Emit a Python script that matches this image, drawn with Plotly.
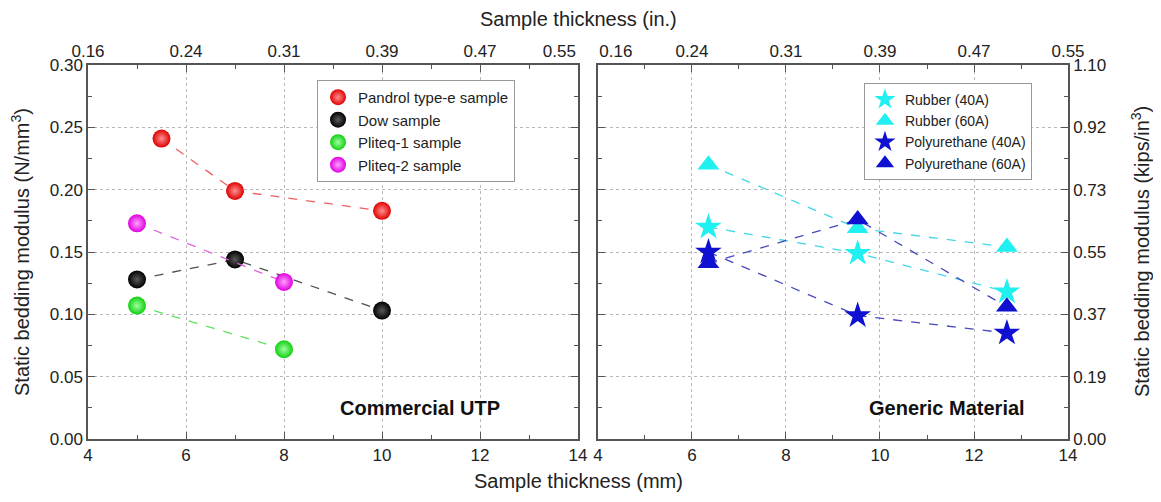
import plotly.graph_objects as go

# ---- data ----
mm_ticks = [4, 6, 8, 10, 12, 14]
in_tick_pos_left = [4, 6, 8, 10, 12, 13.62]
in_tick_pos_right = [4.38, 6, 8, 10, 12, 14]
in_tick_labels = ["0.16", "0.24", "0.31", "0.39", "0.47", "0.55"]
left_y_ticks = [0.00, 0.05, 0.10, 0.15, 0.20, 0.25, 0.30]
left_y_labels = ["0.00", "0.05", "0.10", "0.15", "0.20", "0.25", "0.30"]
right_y_labels = ["0.00", "0.19", "0.37", "0.55", "0.73", "0.92", "1.10"]

pandrol_x = [5.5, 7, 10]
pandrol_y = [0.241, 0.199, 0.183]
dow_x = [5, 7, 10]
dow_y = [0.128, 0.144, 0.103]
pliteq1_x = [5, 8]
pliteq1_y = [0.107, 0.072]
pliteq2_x = [5, 8]
pliteq2_y = [0.173, 0.126]

generic_x = [6.35, 9.525, 12.7]
rubber40_y = [0.170, 0.149, 0.118]
rubber60_y = [0.220, 0.169, 0.154]
pu40_y = [0.150, 0.099, 0.085]
pu60_y = [0.141, 0.176, 0.106]

FONT = "Liberation Sans, Arial, sans-serif"
TICKFONT = dict(family=FONT, size=17, color="#222222")
fig = go.Figure()


def add_series(x, y, name, color, linecolor, symbol, size, xa, ya, legend, gradient=None):
    fig.add_trace(go.Scatter(x=x, y=y, mode="lines", xaxis=xa, yaxis=ya,
                             line=dict(color=linecolor, width=1.3, dash="dash"),
                             showlegend=False, hoverinfo="skip"))
    marker = dict(color=color, symbol=symbol, size=size, line=dict(width=0))
    if gradient:
        marker["gradient"] = dict(type="radial", color=gradient)
    fig.add_trace(go.Scatter(x=x, y=y, mode="markers", name=name, xaxis=xa, yaxis=ya,
                             marker=marker, legend=legend))


add_series(pandrol_x, pandrol_y, "Pandrol type-e sample", "#e00000", "#f06060", "circle", 18, "x", "y", "legend", "#ff9090")
add_series(dow_x, dow_y, "Dow sample", "#000000", "#505050", "circle", 18, "x", "y", "legend", "#5a5a5a")
add_series(pliteq1_x, pliteq1_y, "Pliteq-1 sample", "#10d010", "#60e060", "circle", 18, "x", "y", "legend", "#a0ffa0")
add_series(pliteq2_x, pliteq2_y, "Pliteq-2 sample", "#e000e0", "#e060e0", "circle", 18, "x", "y", "legend", "#ffa0ff")

add_series(generic_x, rubber40_y, "Rubber (40A)", "#20f0f0", "#40d8e8", "star", 20, "x2", "y2", "legend2")
add_series(generic_x, rubber60_y, "Rubber (60A)", "#20f0f0", "#40d8e8", "triangle-up", 19, "x2", "y2", "legend2")
add_series(generic_x, pu40_y, "Polyurethane (40A)", "#1010d0", "#4848c0", "star", 20, "x2", "y2", "legend2")
add_series(generic_x, pu60_y, "Polyurethane (60A)", "#1010d0", "#4848c0", "triangle-up", 19, "x2", "y2", "legend2")

# invisible helpers so the top (inch) label axes are drawn
for xa, ya in (("x3", "y"), ("x4", "y2")):
    fig.add_trace(go.Scatter(x=[mm_ticks[0]], y=[0], mode="markers", xaxis=xa, yaxis=ya,
                             marker=dict(opacity=0, size=1), showlegend=False, hoverinfo="skip"))

axis_common = dict(showline=True, linecolor="#555555", linewidth=1.5,
                   ticks="inside", ticklen=7, tickcolor="#555555", tickwidth=1.2,
                   tickfont=TICKFONT,
                   showgrid=True, gridcolor="#b8b8b8", griddash="dot", gridwidth=1,
                   zeroline=False, mirror="ticks")

x_common = dict(axis_common, range=[4, 14], tickvals=mm_ticks,
                minor=dict(ticks="inside", ticklen=4, tickcolor="#555555", dtick=1, showgrid=False))
y_common = dict(axis_common, range=[0, 0.30], tickvals=left_y_ticks,
                minor=dict(ticks="inside", ticklen=4, tickcolor="#555555", dtick=0.025, showgrid=False))

top_common = dict(range=[4, 14], ticktext=in_tick_labels, side="top", ticks="",
                  showgrid=False, showline=False, zeroline=False, tickfont=TICKFONT,
                  ticklabelstandoff=4)

d1 = [0, 0.5]
d2 = [0.5204, 1]
fig.update_layout(
    width=1145, height=486,
    margin=dict(l=80, r=85, t=57, b=55),
    paper_bgcolor="white", plot_bgcolor="white",
    font=dict(family=FONT, color="#222222"),
    xaxis=dict(x_common, domain=d1, anchor="y"),
    xaxis2=dict(x_common, domain=d2, anchor="y2"),
    xaxis3=dict(top_common, overlaying="x", anchor="y", tickvals=in_tick_pos_left),
    xaxis4=dict(top_common, overlaying="x2", anchor="y2", tickvals=in_tick_pos_right),
    yaxis=dict(y_common, domain=[0, 1], anchor="x", ticktext=left_y_labels),
    yaxis2=dict(y_common, domain=[0, 1], anchor="x2", side="right", ticktext=right_y_labels),
    legend=dict(x=0.2337, y=0.960, xanchor="left", yanchor="top",
                bordercolor="#999999", borderwidth=1, bgcolor="white",
                font=dict(family=FONT, size=15, color="#222222"),
                itemsizing="trace", itemwidth=30, tracegroupgap=0, traceorder="normal"),
    legend2=dict(x=0.7918, y=0.952, xanchor="left", yanchor="top",
                 bordercolor="#999999", borderwidth=1, bgcolor="white",
                 font=dict(family=FONT, size=14, color="#222222"),
                 itemsizing="trace", itemwidth=30, tracegroupgap=0, traceorder="normal"),
    annotations=[
        dict(text="<b>Commercial UTP</b>", x=10.77, y=0.025, xref="x", yref="y",
             showarrow=False, font=dict(family=FONT, size=20, color="#111111")),
        dict(text="<b>Generic Material</b>", x=11.43, y=0.025, xref="x2", yref="y2",
             showarrow=False, font=dict(family=FONT, size=20, color="#111111")),
        dict(text="Sample thickness (mm)", x=0.501, y=-0.112, xref="paper", yref="paper",
             xanchor="center", yanchor="middle", showarrow=False,
             font=dict(family=FONT, size=20, color="#222222")),
        dict(text="Sample thickness (in.)", x=0.501, y=1.122, xref="paper", yref="paper",
             xanchor="center", yanchor="middle", showarrow=False,
             font=dict(family=FONT, size=20, color="#222222")),
        dict(text="Static bedding modulus (N/mm<sup>3</sup>)", x=-0.0694, y=0.5,
             xref="paper", yref="paper", textangle=-90, xanchor="center", yanchor="middle",
             showarrow=False, font=dict(family=FONT, size=20, color="#222222")),
        dict(text="Static bedding modulus (kips/in<sup>3</sup>)", x=1.0735, y=0.5,
             xref="paper", yref="paper", textangle=-90, xanchor="center", yanchor="middle",
             showarrow=False, font=dict(family=FONT, size=20, color="#222222")),
    ],
)

fig.write_html("out.html")
